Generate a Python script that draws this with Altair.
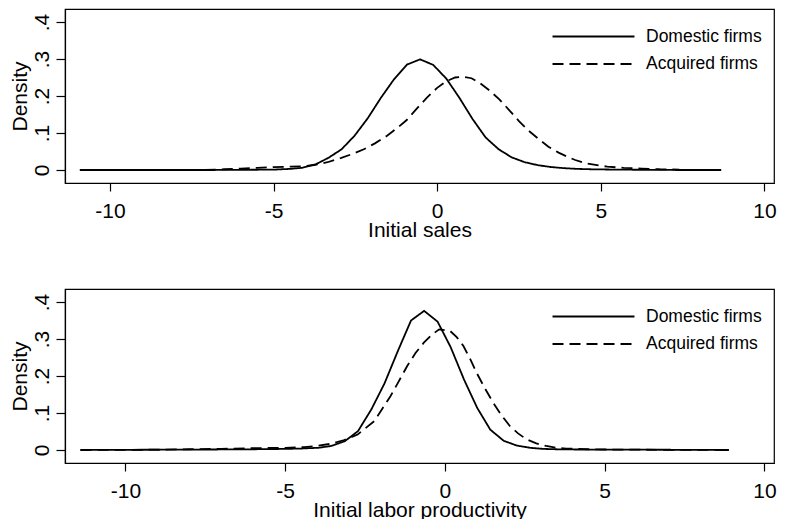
import altair as alt
import pandas as pd

FIRMS = ["Domestic firms", "Acquired firms"]

# ---- Panel 1: Initial sales ----
sales_dom_x = [-10.92, -9.0, -7.0, -6.0, -5.0, -4.5, -4.12, -3.72, -3.32, -2.92, -2.52, -2.12,
               -1.72, -1.32, -0.92, -0.52, -0.12, 0.28, 0.68, 1.08, 1.48, 1.88, 2.28, 2.68,
               3.08, 3.48, 3.88, 4.28, 4.68, 5.5, 6.5, 7.5, 8.68]
sales_dom_y = [0.0, 0.0, 0.0, 0.0005, 0.001, 0.003, 0.006, 0.015, 0.033, 0.056, 0.093, 0.140,
               0.195, 0.245, 0.285, 0.299, 0.284, 0.247, 0.195, 0.138, 0.088, 0.056, 0.034, 0.021,
               0.013, 0.008, 0.005, 0.003, 0.002, 0.001, 0.0005, 0.0, 0.0]

sales_acq_x = [-7.1, -6.5, -6.0, -5.5, -5.0, -4.5, -4.1, -3.76, -3.35, -2.95, -2.6, -2.24,
               -1.9, -1.54, -1.2, -0.93, -0.63, -0.32, 0.0, 0.28, 0.55, 0.79, 1.05, 1.29,
               1.6, 1.9, 2.2, 2.5, 2.8, 3.11, 3.4, 3.71, 4.0, 4.22, 4.6, 5.2, 5.7, 6.25,
               6.8, 7.4]
sales_acq_y = [0.0, 0.002, 0.004, 0.006, 0.008, 0.009, 0.010, 0.0135, 0.021, 0.032, 0.043, 0.056,
               0.072, 0.092, 0.115, 0.135, 0.165, 0.195, 0.222, 0.240, 0.250, 0.252, 0.248, 0.236,
               0.215, 0.191, 0.162, 0.132, 0.106, 0.083, 0.063, 0.047, 0.035, 0.027, 0.017, 0.009,
               0.006, 0.004, 0.002, 0.001]

# ---- Panel 2: Initial labor productivity ----
prod_dom_x = [-11.41, -10.0, -8.0, -6.0, -5.0, -4.5, -3.96, -3.55, -3.13, -2.72, -2.30, -1.89,
              -1.47, -1.06, -0.65, -0.23, 0.18, 0.60, 1.01, 1.42, 1.84, 2.25, 2.67, 3.08,
              3.5, 4.5, 6.0, 7.5, 8.89]
prod_dom_y = [0.0, 0.0005, 0.001, 0.002, 0.003, 0.004, 0.006, 0.011, 0.024, 0.051, 0.110, 0.180,
              0.268, 0.350, 0.376, 0.347, 0.278, 0.190, 0.114, 0.055, 0.025, 0.012, 0.006, 0.003,
              0.002, 0.001, 0.001, 0.0005, 0.0]

prod_acq_x = [-11.4, -10.0, -9.0, -8.0, -7.0, -6.0, -5.0, -4.4, -4.0, -3.56, -3.15, -2.73,
              -2.21, -1.70, -1.44, -1.18, -0.92, -0.66, -0.40, -0.18, 0.16, 0.37, 0.58, 0.79,
              0.99, 1.25, 1.51, 1.77, 2.03, 2.29, 2.55, 2.86, 3.17, 3.5, 3.8, 4.5, 5.5, 7.0, 8.8]
prod_acq_y = [0.0, 0.0005, 0.001, 0.002, 0.003, 0.005, 0.006, 0.008, 0.011, 0.017, 0.027, 0.042,
              0.078, 0.146, 0.186, 0.227, 0.262, 0.290, 0.312, 0.326, 0.322, 0.305, 0.281, 0.246,
              0.209, 0.167, 0.128, 0.094, 0.065, 0.045, 0.029, 0.018, 0.011, 0.006, 0.004, 0.002,
              0.001, 0.0005, 0.0]

X_TICKS = [-10, -5, 0, 5, 10]
Y_TICKS = [0, 0.1, 0.2, 0.3, 0.4]
FONT = "Liberation Sans"
PLOT_W = 709
PLOT_H = 174


def frame(dom_x, dom_y, acq_x, acq_y):
    d1 = pd.DataFrame({"x": dom_x, "density": dom_y, "firm": FIRMS[0]})
    d2 = pd.DataFrame({"x": acq_x, "density": acq_y, "firm": FIRMS[1]})
    return pd.concat([d1, d2], ignore_index=True)


def panel(df, xdom, xtitle):
    return alt.Chart(df).mark_line(strokeWidth=1.8, color="black").encode(
        x=alt.X("x:Q",
                scale=alt.Scale(domain=xdom, nice=False, zero=False),
                axis=alt.Axis(values=X_TICKS, title=xtitle,
                              labelExpr="'' + datum.value",
                              tickSize=8, labelPadding=26, labelBaseline="alphabetic",
                              titleBaseline="alphabetic", titleY=53)),
        y=alt.Y("density:Q",
                scale=alt.Scale(domain=[-0.0351, 0.4351], nice=False, zero=False),
                axis=alt.Axis(values=Y_TICKS, title="Density",
                              labelExpr="datum.value == 0 ? '0' : '.' + round(datum.value * 10)",
                              labelAngle=270, labelAlign="center", labelBaseline="alphabetic",
                              tickSize=9, labelPadding=8,
                              titleAngle=270, titleBaseline="alphabetic", titleAlign="center",
                              titleX=-39, titleY=PLOT_H / 2)),
        strokeDash=alt.StrokeDash("firm:N",
                                  scale=alt.Scale(domain=FIRMS, range=[[1, 0], [11, 6]]),
                                  legend=alt.Legend(title=None, orient="none",
                                                    legendX=517, legendY=16,
                                                    symbolType="M-4,0H4", symbolSize=420,
                                                    symbolStrokeWidth=1.8,
                                                    symbolStrokeColor="black",
                                                    labelFontSize=17.5, labelFont=FONT,
                                                    labelColor="black", labelOffset=41,
                                                    rowPadding=7.5, padding=0,
                                                    labelLimit=300)),
        order=alt.Order("x:Q"),
    ).properties(width=PLOT_W, height=PLOT_H)


top = panel(frame(sales_dom_x, sales_dom_y, sales_acq_x, sales_acq_y),
            [-11.372, 10.293], "Initial sales")
bottom = panel(frame(prod_dom_x, prod_dom_y, prod_acq_x, prod_acq_y),
               [-11.89, 10.30], "Initial labor productivity")

chart = alt.vconcat(top, bottom, spacing=106, bounds="flush").resolve_scale(
    x="independent", y="independent", strokeDash="independent"
).properties(
    padding={"left": 0, "top": 0, "right": 0, "bottom": 0},
    background="white",
).configure_view(
    stroke="black", strokeWidth=1.2
).configure_axis(
    grid=False, domainColor="black", domainWidth=1.2, tickColor="black", tickWidth=1.2,
    labelColor="black", titleColor="black", labelFont=FONT, titleFont=FONT,
    labelFontSize=21, titleFontSize=21, labelFontWeight="normal", titleFontWeight="normal"
)

chart.save("out.html", embed_options={"renderer": "svg", "actions": False})
